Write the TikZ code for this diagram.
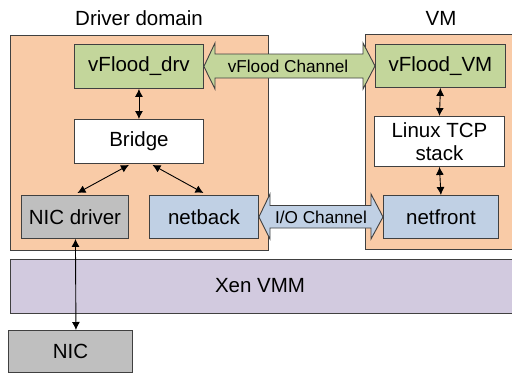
\documentclass[tikz,border=0pt]{standalone}
\usepackage{fontspec}
\setmainfont{Liberation Sans}
\usetikzlibrary{arrows.meta,calc}
\definecolor{peach}{HTML}{F9CBA7}
\definecolor{lgreen}{HTML}{C3D69B}
\definecolor{lblue}{HTML}{C0D0E4}
\definecolor{lgray}{HTML}{BFBFBF}
\definecolor{lpurple}{HTML}{D2CADF}
\definecolor{edge}{HTML}{404040}
\begin{document}
\begin{tikzpicture}[x=1pt,y=-1pt,
  box/.style={draw=edge,line width=0.9pt,inner sep=0pt,anchor=north west,
    font=\fontsize{20.5}{23}\selectfont,align=center},
  dombox/.style={draw=edge,line width=0.9pt,fill=peach,inner sep=0pt,anchor=north west},
  titletext/.style={font=\fontsize{20.5}{23}\selectfont},
  chan/.style={draw=edge,line width=0.9pt},
  chanlbl/.style={font=\fontsize{17.2}{20}\selectfont},
  link/.style={line width=0.9pt,{Latex[length=8pt,width=8pt]}-{Latex[length=8pt,width=8pt]}}]
\useasboundingbox (0,0) rectangle (512,373);
% domains
\node[dombox,minimum width=258pt,minimum height=215pt] (dd) at (10,35) {};
\node[dombox,minimum width=150pt,minimum height=215pt] (vm) at (365,34) {};
\node[titletext] (ddt) at (139,18) {Driver domain};
\node[titletext] (vmt) at (441,18) {VM};
% Xen VMM
\node[box,fill=lpurple,minimum width=504pt,minimum height=54pt] (xen) at (10,259) {};
\node[font=\fontsize{20.5}{23}\selectfont] (xent) at (260,286) {Xen VMM};
% driver domain boxes
\node[box,fill=lgreen,minimum width=129pt,minimum height=44pt] (drv) at (74,44) {vFlood\_drv};
\node[box,fill=white,minimum width=129pt,minimum height=44pt] (bridge) at (74,119) {Bridge};
\node[box,fill=lgray,minimum width=107pt,minimum height=43pt] (nicd) at (21,195) {NIC driver};
\node[box,fill=lblue,minimum width=109pt,minimum height=43pt] (nb) at (149,195) {netback};
% VM boxes
\node[box,fill=lgreen,minimum width=130pt,minimum height=43pt] (fvm) at (375,44) {vFlood\_VM};
\node[box,fill=white,minimum width=130pt,minimum height=50pt] (tcp) at (374,116) {Linux TCP\\stack};
\node[box,fill=lblue,minimum width=115pt,minimum height=43pt] (nf) at (383,195) {netfront};
% NIC
\node[box,fill=lgray,minimum width=124pt,minimum height=42pt] (nic) at (8,330) {NIC};
% channels
\draw[chan,fill=lgreen] (drv.east) -- (215,43) -- (215,54) -- (363,54) -- (363,43)
  -- (fvm.west) -- (363,89) -- (363,78) -- (215,78) -- (215,89) -- cycle;
\node[chanlbl] (vfc) at (288,66) {vFlood Channel};
\draw[chan,fill=lblue] (nb.east) -- (270,194) -- (270,205.5) -- (371,205.5) -- (371,194)
  -- (nf.west) -- (371,239) -- (371,228) -- (270,228) -- (270,239) -- cycle;
\node[chanlbl] (ioc) at (321,217) {I/O Channel};
% links
\draw[link] (drv.south) -- (bridge.north);
\draw[link] (fvm.south) -- (tcp.north);
\draw[link] (tcp.south) -- (nf.north);
\draw[link] ($(bridge.south)+(-10,1)$) -- ($(nicd.north)+(2.5,-2)$);
\draw[link] ($(bridge.south)+(13.5,1)$) -- ($(nb.north)+(-0.5,-2)$);
\draw[link] ($(nicd.south)+(0.5,0)$) -- ($(nic.north)+(5.5,0)$);
\end{tikzpicture}
\end{document}
